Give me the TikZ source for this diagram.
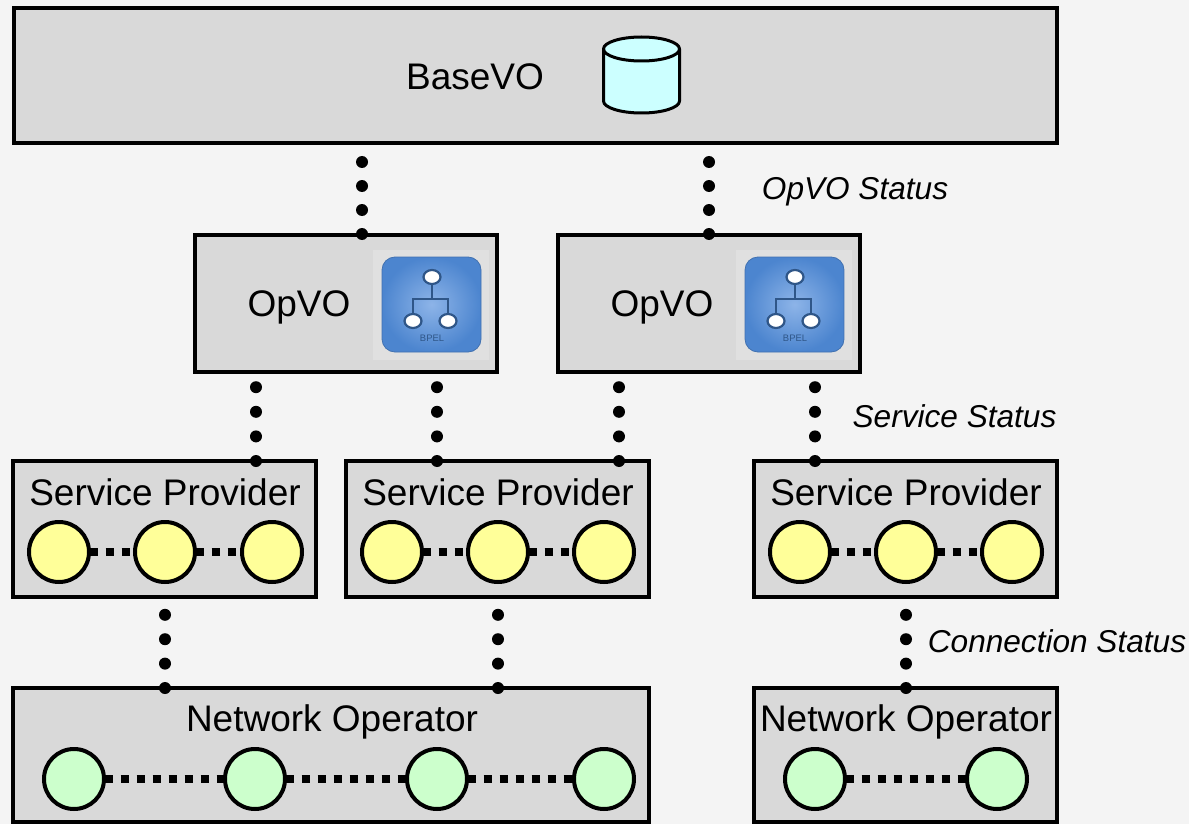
\documentclass[tikz,border=0pt]{standalone}
\usepackage{fontspec}
\setmainfont{Liberation Sans}
\usetikzlibrary{calc}
\definecolor{pagebg}{HTML}{F4F4F4}
\definecolor{boxgray}{HTML}{D9D9D9}
\definecolor{yel}{HTML}{FFFF99}
\definecolor{grn}{HTML}{CCFFCC}
\definecolor{cyl}{HTML}{CCFFFF}
\definecolor{iconbg}{HTML}{E0E0E0}
\definecolor{iconin}{HTML}{8DB4E8}
\definecolor{iconout}{HTML}{4C85CF}
\definecolor{iconln}{HTML}{2F5688}
\tikzset{
  x=1pt,y=-1pt,
  vobox/.style={draw=black,line width=4pt,fill=boxgray,anchor=north west,inner sep=0pt,outer sep=0pt},
  big/.style={font=\fontsize{37}{40}\selectfont,text=black,inner sep=0pt},
  note/.style={font=\fontsize{31.6}{36}\selectfont\itshape,text=black,inner sep=0pt},
  ynode/.style={circle,draw=black,line width=4pt,fill=yel,minimum size=60pt,inner sep=0pt},
  gnode/.style={circle,draw=black,line width=4pt,fill=grn,minimum size=60pt,inner sep=0pt},
  dotlink/.style={line width=12pt,line cap=round,dash pattern=on 0pt off #1},
  sqlink/.style={line width=8pt,dash pattern=on 8pt off 8pt,dash phase=1.5pt},
}
\newcommand{\bpelicon}[3]{% x y name
  \begin{scope}[shift={(#1,#2)}]
    \fill[iconbg] (-9,-7) rectangle (107,103);
    \node[draw=iconout!85!black,line width=0.8pt,rounded corners=13pt,minimum width=99pt,minimum height=95pt,
      inner color=iconin,outer color=iconout,inner sep=0pt] (#3) at (49.5,47.5) {};
    \draw[iconln,line width=2.2pt] (50,26) -- (50,42) (31,58) -- (31,42) -- (66,42) -- (66,58);
    \foreach \cx/\cy in {50/20, 31/64, 66/64}
      \draw[iconln,line width=2.2pt,fill=white] (\cx,\cy) ellipse [x radius=8.5pt,y radius=7pt];
    \node[font=\fontsize{9.4}{10}\selectfont,text=iconln,inner sep=0pt] at (50,81) {BPEL};
  \end{scope}
}
\begin{document}
\begin{tikzpicture}
\useasboundingbox (0,0) rectangle (1189,824);
\fill[pagebg] (0,0) rectangle (1189,824);

% boxes
\node[vobox,minimum width=1043pt,minimum height=135pt] (base) at (14,8) {};
\node[vobox,minimum width=302pt,minimum height=137pt] (op1) at (195,235) {};
\node[vobox,minimum width=302pt,minimum height=137pt] (op2) at (558,235) {};
\node[vobox,minimum width=303pt,minimum height=136pt] (sp1) at (13,461) {};
\node[vobox,minimum width=303pt,minimum height=136pt] (sp2) at (346,461) {};
\node[vobox,minimum width=303pt,minimum height=136pt] (sp3) at (754,461) {};
\node[vobox,minimum width=636pt,minimum height=134pt] (no1) at (13,688) {};
\node[vobox,minimum width=303pt,minimum height=134pt] (no2) at (754,688) {};

% dotted links
\foreach \nm/\px/\py/\ey/\per in {a/362/234/155/24pt, b/709/234/155/24pt, c/256/461/380/24.6pt, d/437/461/380/24.6pt, e/619/461/380/24.6pt, f/815/461/380/24.6pt, g/165/688/608/24.4pt, h/498/688/608/24.4pt, i/906/688/608/24.4pt}{
  \coordinate (\nm0) at (\px,\py);
  \coordinate (\nm1) at (\px,\ey);
  \draw[dotlink=\per] (\nm0) -- (\nm1);
}

% labels
\node[big] (tbase) at (475,77) {BaseVO};
\node[big] (top1) at (299,307) {OpVO};
\node[big] (top2) at (662,307) {OpVO};
\node[big] (tsp1) at (165,492) {Service Provider};
\node[big] (tsp2) at (498,492) {Service Provider};
\node[big] (tsp3) at (906,492) {Service Provider};
\node[big] (tno1) at (332,722) {Network Operator};
\node[big] (tno2) at (906,722) {Network Operator};
\node[note] (n1) at (855,192) {OpVO Status};
\node[note] (n2) at (954.5,416) {Service Status};
\node[note] (n3) at (1057,641) {Connection Status};

% database
\draw[black,line width=3pt,fill=cyl,line join=round] (603.5,49) -- (603.5,101)
  arc[start angle=180,end angle=0,x radius=38pt,y radius=-12pt] -- (679.5,49)
  arc[start angle=0,end angle=180,x radius=38pt,y radius=12pt] -- cycle;
\draw[black,line width=3pt] (603.5,49) arc[start angle=180,end angle=0,x radius=38pt,y radius=-12pt];

% icons
\bpelicon{382}{257}{ic1}
\bpelicon{745}{257}{ic2}

% square-dotted links and nodes
\foreach \nm/\cx in {y1/59, y2/165, y3/272, y4/392, y5/498, y6/604, y7/800, y8/906, y9/1012}
  \coordinate (\nm c) at (\cx,552);
\foreach \a/\b in {y1/y2,y2/y3,y4/y5,y5/y6,y7/y8,y8/y9}
  \draw[sqlink] (\a c) -- (\b c);
\foreach \nm/\cx in {g1/74, g2/255, g3/437, g4/604, g5/815, g6/997}
  \coordinate (\nm c) at (\cx,779);
\foreach \a/\b in {g1/g2,g2/g3,g3/g4,g5/g6}
  \draw[sqlink] (\a c) -- (\b c);
\foreach \nm in {y1,y2,y3,y4,y5,y6,y7,y8,y9}
  \node[ynode] (\nm) at (\nm c) {};
\foreach \nm in {g1,g2,g3,g4,g5,g6}
  \node[gnode] (\nm) at (\nm c) {};
\end{tikzpicture}
\end{document}
